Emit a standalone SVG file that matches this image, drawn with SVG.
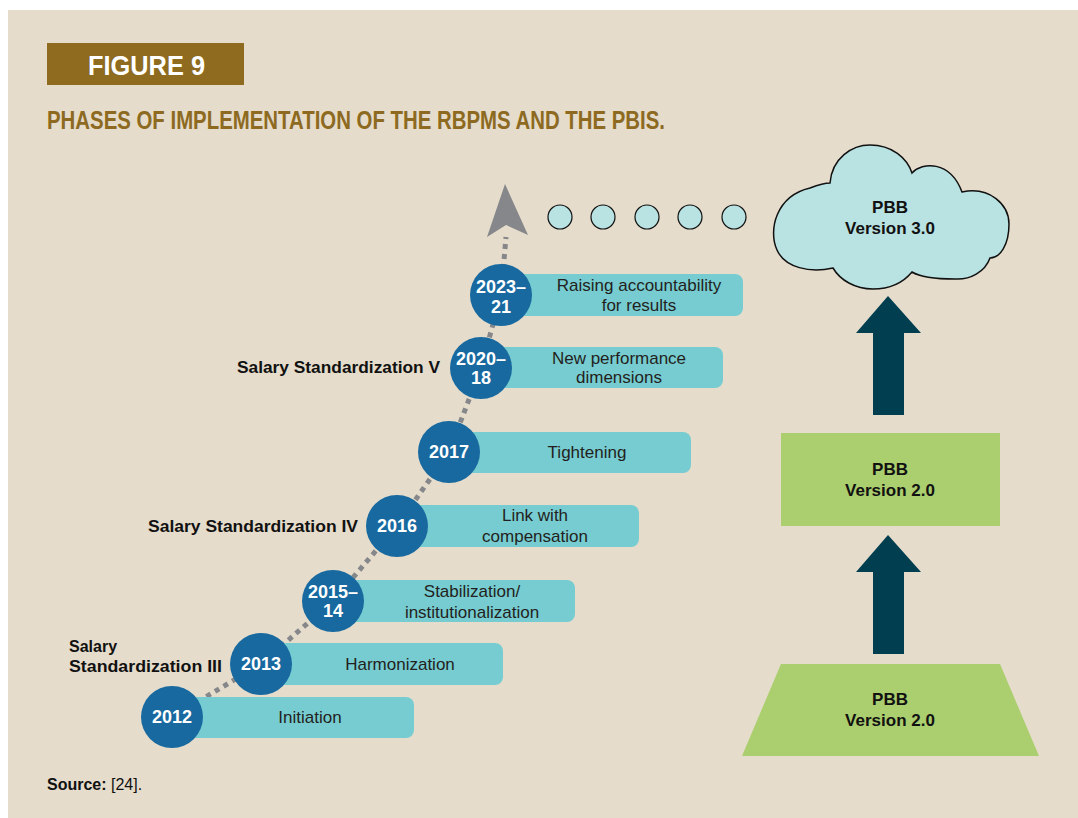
<svg xmlns="http://www.w3.org/2000/svg" width="1078" height="818" viewBox="0 0 1078 818">
<defs>
<style>
.bar{fill:#76CCD0}
.yr{fill:#17699F}
.yt{font-family:"Liberation Sans",Arial,sans-serif;font-weight:bold;font-size:18px;fill:#FFFFFF;text-anchor:middle}
.bt{font-family:"Liberation Sans",Arial,sans-serif;font-size:17px;fill:#231F20;text-anchor:middle}
.lb{font-family:"Liberation Sans",Arial,sans-serif;font-weight:bold;font-size:16px;fill:#111111}
.pb{font-family:"Liberation Sans",Arial,sans-serif;font-weight:bold;font-size:17px;fill:#111111;text-anchor:middle}
.dot{fill:#B9E2E2;stroke:#111111;stroke-width:1.2}
.big{fill:#013F50}
.grn{fill:#ABCE6E}
</style>
</defs>
<rect x="0" y="0" width="1078" height="818" fill="#FFFFFF"/>
<rect x="8" y="10" width="1070" height="808" fill="#E5DCCB"/>
<g id="header">
<rect x="47" y="43" width="197" height="42" fill="#8E6B1E"/>
<text x="88" y="75" font-family="'Liberation Sans',Arial,sans-serif" font-weight="bold" font-size="27" fill="#FFFFFF" textLength="117" lengthAdjust="spacingAndGlyphs">FIGURE 9</text>
<text x="47" y="129" font-family="'Liberation Sans',Arial,sans-serif" font-weight="bold" font-size="25" fill="#8D6A1F" textLength="618" lengthAdjust="spacingAndGlyphs">PHASES OF IMPLEMENTATION OF THE RBPMS AND THE PBIS.</text>
</g>
<g id="connectors">
<polyline points="172,717 261,664 333,601 397,526 449,452 481,368 501,295 506,237" fill="none" stroke="#86878A" stroke-width="5" stroke-dasharray="5 5"/>
<polygon points="505,184 528,235 506,225 487,237" fill="#86878A"/>
<polygon class="big" points="888,296 921,333 904,333 904,415 873,415 873,333 856,333"/>
<polygon class="big" points="888,535 921,572 904,572 904,654 873,654 873,572 856,572"/>
</g>
<g id="node-2012">
<path class="bar" d="M172,697 H406 A8,8 0 0 1 414,705 V730 A8,8 0 0 1 406,738 H172 Z"/>
<circle class="yr" cx="172" cy="717" r="31"/>
<text class="yt" x="172" y="723">2012</text>
<text class="bt" x="310" y="723">Initiation</text>
</g>
<g id="node-2013">
<path class="bar" d="M261,643 H495 A8,8 0 0 1 503,651 V677 A8,8 0 0 1 495,685 H261 Z"/>
<circle class="yr" cx="261" cy="664" r="31"/>
<text class="yt" x="261" y="670">2013</text>
<text class="bt" x="400" y="670">Harmonization</text>
</g>
<g id="node-2015">
<path class="bar" d="M333,580 H567 A8,8 0 0 1 575,588 V614 A8,8 0 0 1 567,622 H333 Z"/>
<circle class="yr" cx="333" cy="601" r="31"/>
<text class="yt" x="333" y="598">2015–</text>
<text class="yt" x="333" y="617">14</text>
<text class="bt" x="472" y="597">Stabilization/</text>
<text class="bt" x="472" y="618">institutionalization</text>
</g>
<g id="node-2016">
<path class="bar" d="M397,505 H631 A8,8 0 0 1 639,513 V539 A8,8 0 0 1 631,547 H397 Z"/>
<circle class="yr" cx="397" cy="526" r="31"/>
<text class="yt" x="397" y="532">2016</text>
<text class="bt" x="535" y="521">Link with</text>
<text class="bt" x="535" y="542">compensation</text>
</g>
<g id="node-2017">
<path class="bar" d="M449,432 H683 A8,8 0 0 1 691,440 V465 A8,8 0 0 1 683,473 H449 Z"/>
<circle class="yr" cx="449" cy="452" r="31"/>
<text class="yt" x="449" y="458">2017</text>
<text class="bt" x="587" y="458">Tightening</text>
</g>
<g id="node-2020">
<path class="bar" d="M481,347 H715 A8,8 0 0 1 723,355 V380 A8,8 0 0 1 715,388 H481 Z"/>
<circle class="yr" cx="481" cy="368" r="31"/>
<text class="yt" x="481" y="365">2020–</text>
<text class="yt" x="481" y="384">18</text>
<text class="bt" x="619" y="364">New performance</text>
<text class="bt" x="619" y="383">dimensions</text>
</g>
<g id="node-2023">
<path class="bar" d="M501,274 H735 A8,8 0 0 1 743,282 V308 A8,8 0 0 1 735,316 H501 Z"/>
<circle class="yr" cx="501" cy="295" r="31"/>
<text class="yt" x="501" y="293">2023–</text>
<text class="yt" x="501" y="313">21</text>
<text class="bt" x="639" y="291">Raising accountability</text>
<text class="bt" x="639" y="311">for results</text>
</g>
<g id="labels">
<text class="lb" x="237" y="373" textLength="203" lengthAdjust="spacingAndGlyphs">Salary Standardization V</text>
<text class="lb" x="148" y="532" textLength="210" lengthAdjust="spacingAndGlyphs">Salary Standardization IV</text>
<text class="lb" x="69" y="652">Salary</text>
<text class="lb" x="69" y="672" textLength="153" lengthAdjust="spacingAndGlyphs">Standardization III</text>
</g>
<g id="dots">
<circle class="dot" cx="560" cy="217" r="12"/>
<circle class="dot" cx="603" cy="217" r="12"/>
<circle class="dot" cx="647" cy="217" r="12"/>
<circle class="dot" cx="690" cy="217" r="12"/>
<circle class="dot" cx="734" cy="217" r="12"/>
</g>
<g id="node-pbb3">
<path d="M830 183 C832 158 852 145 870 145 C892 145 907 158 912 173 C922 162 950 160 962 192 C990 186 1009 205 1009 224 C1009 245 1000 258 990 258 C985 272 970 280 955 279 C935 279 920 277 912 272 C902 284 888 289 873 289 C855 289 840 280 833 268 C810 273 785 268 777 250 C768 230 776 196 810 188 C818 185 825 183 830 183 Z" fill="#B9E2E2" stroke="#111111" stroke-width="1.5"/>
<text class="pb" x="890" y="213">PBB</text>
<text class="pb" x="890" y="234">Version 3.0</text>
</g>
<g id="node-pbb2-rect">
<rect class="grn" x="781" y="433" width="219" height="93"/>
<text class="pb" x="890" y="475">PBB</text>
<text class="pb" x="890" y="496">Version 2.0</text>
</g>
<g id="node-pbb2-trap">
<polygon class="grn" points="781,664 1000,664 1039,756 742,756"/>
<text class="pb" x="890" y="705">PBB</text>
<text class="pb" x="890" y="726">Version 2.0</text>
</g>
<text x="47" y="790" font-family="'Liberation Sans',Arial,sans-serif" font-size="16" fill="#111111"><tspan font-weight="bold">Source:</tspan> [24].</text>
</svg>
